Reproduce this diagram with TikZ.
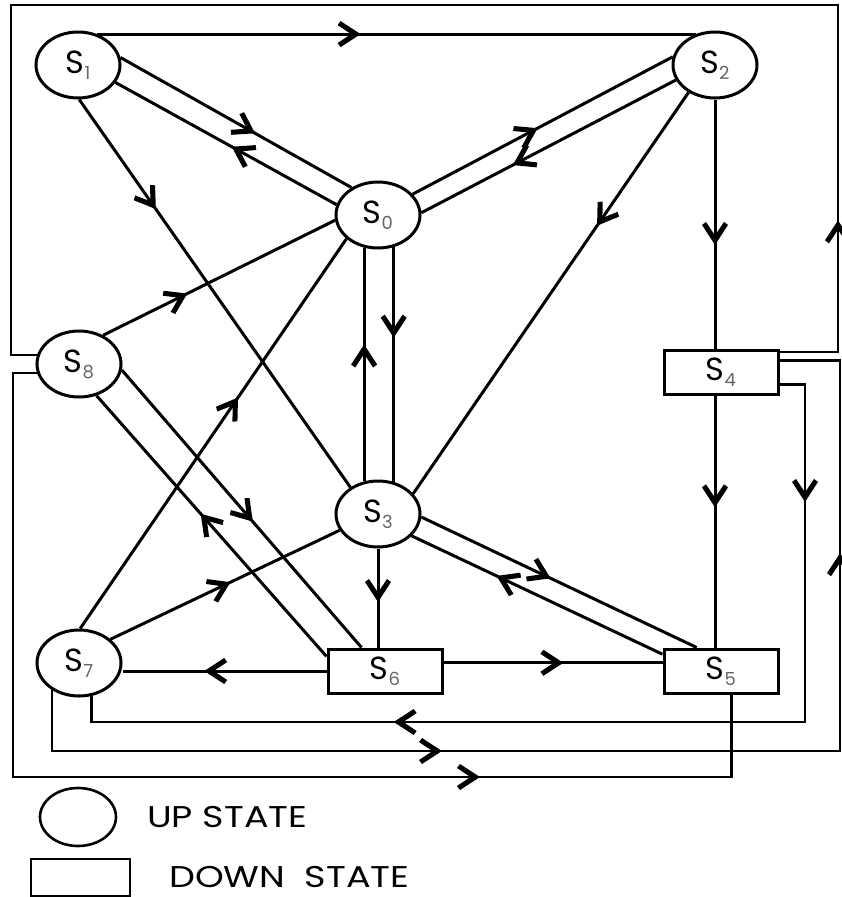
\documentclass[tikz,border=0pt]{standalone}
\usepackage{fontspec}
\setmainfont{Poppins}
\newfontfamily\legfont{Poppins}[FakeStretch=1.22]
\usetikzlibrary{arrows.meta,decorations.markings,backgrounds,calc,shapes.geometric}
\newcommand{\stlab}[1]{S\raisebox{-6pt}{\fontsize{18}{18}\selectfont\color{black!60}#1}}
\newcommand{\chevtip}{\fill (6pt,0pt) -- (-14pt,13pt) -- (-17pt,9pt) -- (-3.5pt,0pt) -- (-17pt,-9pt) -- (-14pt,-13pt) -- cycle;}
\tikzset{
  upstate/.style={ellipse, draw, line width=3pt, fill=white, minimum width=84pt, minimum height=66pt, inner sep=0pt, font=\fontsize{32}{36}\selectfont},
  downstate/.style={rectangle, draw, line width=3pt, fill=white, minimum width=114pt, minimum height=44pt, inner sep=0pt, font=\fontsize{32}{36}\selectfont},
  conn/.style={line width=3pt},
  ring/.style={line width=2.6pt},
  midtip/.style={postaction={decorate,decoration={markings,mark=at position #1 with {\chevtip}}}},
  midtwo/.style 2 args={postaction={decorate,decoration={markings,mark=at position #1 with {\chevtip},mark=at position #2 with {\chevtip}}}},
  legtext/.style={anchor=west, inner sep=0pt, font=\legfont\fontsize{30}{34}\selectfont},
}
\begin{document}
\begin{tikzpicture}[x=1pt,y=-1pt]
\useasboundingbox (0,0) rectangle (842,897);
% states
\node[upstate] (s1) at (78,65) {\stlab{1}};
\node[upstate] (s2) at (715,65) {\stlab{2}};
\node[upstate] (s0) at (378,215) {\stlab{0}};
\node[upstate] (s8) at (79,364) {\stlab{8}};
\node[upstate] (s3) at (378,514) {\stlab{3}};
\node[upstate] (s7) at (79,663) {\stlab{7}};
\node[downstate] (s4) at (721,372) {\stlab{4}};
\node[downstate] (s5) at (721,671) {\stlab{5}};
\node[downstate] (s6) at (385,671) {\stlab{6}};
% loop corners
\coordinate (tr) at (838,5);
\coordinate (tl) at (11,5);
\coordinate (bl) at (13,777);
\coordinate (ra) at (805,722);
\coordinate (rb) at (840,751);
\begin{scope}[on background layer]
\draw[conn, midtip=0.43] (s1.58) -- (s2.122);
\draw[conn, midtip=0.56] (s1.10) -- (s0.134);
\draw[conn, midtip=0.45] (s0.166) -- (s1.-25);
\draw[conn, midtip=0.46] (s0.31) -- (s2.169);
\draw[conn, midtip=0.62] (s2.201) -- (s0.3);
\draw[conn, midtip=0.32] (s2.226) -- (s3.30);
\draw[conn, midtip=0.56] (s2.south) -- (s2.south |- s4.north);
\draw[conn, midtip=0.27] (s1.-88) -- (s3.136);
\draw[conn, midtip=0.36] (s0.-64) -- (s3.64);
\draw[conn, midtip=0.56] (s3.113) -- (s0.-113);
\draw[conn, midtip=0.34] (s8.50) -- (s0.187);
\draw[conn, midtip=0.58] (s7.88) -- (s0.217);
\draw[conn, midtip=0.53] (s8.-8) -- (s6.135);
\draw[conn, midtip=0.53] (s6.166) -- (s8.-61);
\draw[conn, midtip=0.5] (s7.37) -- (s3.203);
\draw[conn, midtip=0.48] (s3.south) -- (s3.south |- s6.north);
\draw[conn, midtip=0.45] (s3.-4) -- (s5.136);
\draw[conn, midtip=0.64] (s5.164) -- (s3.-33);
\draw[conn, midtip=0.57] (s6.west) -- (s6.west -| s7.east);
\draw[conn, midtip=0.52] (s6.8) -- (s5.172);
\draw[conn, midtip=0.42] (s2.south |- s4.south) -- (s2.south |- s5.north);
% outer loops
\draw[ring, midtip=184pt] (s4.19) -| (tr) -- (tl) |- (s8.168);
\draw[ring, midtip=-340pt] (s8.192) -| (bl) -| (s5.-66);
\draw[ring, midtwo={137pt}{-334pt}] (s4.-12) -| (ra) -| (s7.-69);
\draw[ring, midtwo={445pt}{-259pt}] (s7.-135) |- (rb) |- (s4.11);
\end{scope}
% legend
\node[ellipse, draw, line width=2.6pt, minimum width=76pt, minimum height=58pt, inner sep=0pt] (lu) at (78,817) {};
\node[legtext] (lut) at (147,817) {UP STATE};
\node[rectangle, draw, line width=2.6pt, minimum width=99pt, minimum height=37pt, inner sep=0pt] (ld) at (80.5,877.5) {};
\node[legtext] (ldt) at (169,877) {DOWN\ \ STATE};
\end{tikzpicture}
\end{document}
